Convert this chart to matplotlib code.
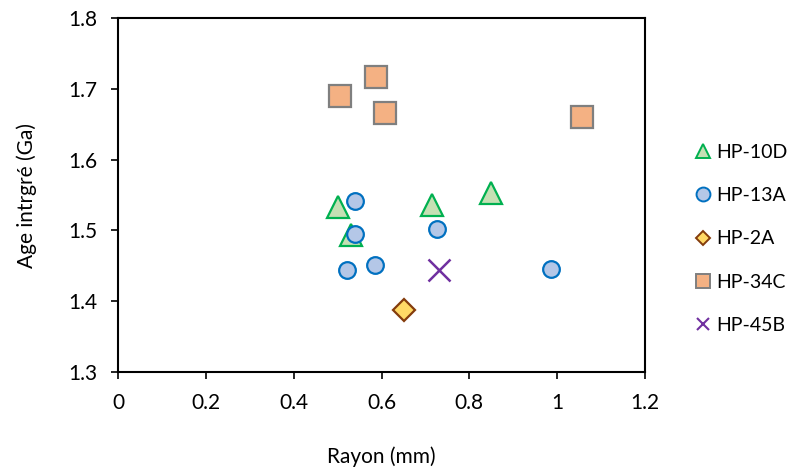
import matplotlib
matplotlib.use("Agg")
import matplotlib.pyplot as plt
from matplotlib.lines import Line2D

plt.rcParams['font.family'] = ['Lato', 'DejaVu Sans']

# data
x_10d = [0.501, 0.530, 0.715, 0.849]
y_10d = [1.533, 1.494, 1.536, 1.553]

x_13a = [0.539, 0.539, 0.726, 0.521, 0.586, 0.986]
y_13a = [1.541, 1.495, 1.502, 1.444, 1.451, 1.445]

x_2a = [0.651]
y_2a = [1.388]

x_34c = [0.505, 0.587, 0.608, 1.056]
y_34c = [1.690, 1.717, 1.666, 1.660]

x_45b = [0.731]
y_45b = [1.444]

labels = ['HP-10D', 'HP-13A', 'HP-2A', 'HP-34C', 'HP-45B']

fig = plt.figure(figsize=(7.99, 4.70), dpi=100)
ax = fig.add_axes([118/799, 1 - 372/470, (645 - 118)/799, (372 - 18)/470])

ax.plot(x_10d, y_10d, ls='none', marker='^', ms=16, mfc='#C5E0B4', mec='#00B050', mew=1.6)
ax.plot(x_13a, y_13a, ls='none', marker='o', ms=12, mfc='#B4C7E7', mec='#0070C0', mew=1.6)
ax.plot(x_2a, y_2a, ls='none', marker='D', ms=11, mfc='#FFD966', mec='#843C0C', mew=1.6)
ax.plot(x_34c, y_34c, ls='none', marker='s', ms=15.5, mfc='#F4B183', mec='#7F7F7F', mew=1.6)
ax.plot(x_45b, y_45b, ls='none', marker='x', ms=16, mec='#7030A0', mew=1.8)

ax.set_xlim(0, 1.2)
ax.set_ylim(1.3, 1.8)
ax.set_xticks([0, 0.2, 0.4, 0.6, 0.8, 1, 1.2])
ax.set_xticklabels(['0', '0.2', '0.4', '0.6', '0.8', '1', '1.2'])
ax.set_yticks([1.3, 1.4, 1.5, 1.6, 1.7, 1.8])
ax.set_yticklabels(['1.3', '1.4', '1.5', '1.6', '1.7', '1.8'])
ax.tick_params(labelsize=15, length=5, width=1.2, direction='out', pad=10)
for s in ax.spines.values():
    s.set_linewidth(1.5)
    s.set_color('black')

ax.set_xlabel('Rayon (mm)', fontsize=15, labelpad=24)
ax.set_ylabel('Age intrgré (Ga)', fontsize=15, labelpad=22)

# legend keys drawn a bit smaller, like the original
handles = [
    Line2D([], [], ls='none', marker='^', ms=9.5, mfc='#C5E0B4', mec='#00B050', mew=1.4),
    Line2D([], [], ls='none', marker='o', ms=10, mfc='#B4C7E7', mec='#0070C0', mew=1.4),
    Line2D([], [], ls='none', marker='D', ms=6.8, mfc='#FFD966', mec='#843C0C', mew=1.4),
    Line2D([], [], ls='none', marker='s', ms=9.5, mfc='#F4B183', mec='#7F7F7F', mew=1.4),
    Line2D([], [], ls='none', marker='x', ms=9, mec='#7030A0', mew=1.5),
]
leg = ax.legend(handles, labels, loc='center left', bbox_to_anchor=(1.059, 0.376), frameon=False,
                fontsize=14, handletextpad=0.15, labelspacing=1.35, handlelength=1.0)

fig.savefig('out.png', dpi=100)
